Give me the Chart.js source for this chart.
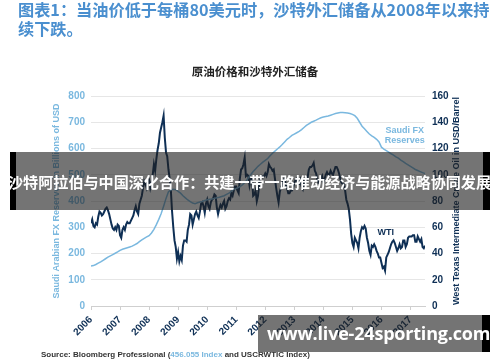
<!DOCTYPE html>
<html lang="zh">
<head>
<meta charset="UTF-8">
<title>原油价格和沙特外汇储备</title>
<script src="https://cdn.jsdelivr.net/npm/chart.js@4.4.1/dist/chart.umd.min.js"></script>
<style>
    body {
        margin: 0;
        width: 500px;
        height: 362px;
        overflow: hidden;
        background: #ffffff;
        font-family: "Noto Sans CJK SC", "Noto Sans", sans-serif;
        position: relative;
    }
    #chart { position: absolute; left: 0; top: 0; }
    .heading {
        position: absolute;
        left: 18px;
        top: 0px;
        width: 475px;
        font-size: 16.2px;
        line-height: 19px;
        font-weight: bold;
        color: #4a8fcf;
    }
    .ctitle {
        position: absolute;
        left: 0;
        width: 510px;
        top: 63px;
        text-align: center;
        font-size: 11.5px;
        font-weight: bold;
        color: #222;
    }
    .source {
        position: absolute;
        left: 41px;
        top: 350px;
        font-family: "Liberation Sans", Arial, sans-serif;
        font-size: 8px;
        font-weight: bold;
        color: #333;
        white-space: nowrap;
    }
    .source span { color: #7ab8df; }
    .banner {
        position: absolute;
        left: 10px;
        top: 152px;
        width: 480px;
        height: 58px;
        background: rgba(30, 30, 30, 0.62);
    }
    .bar { position: absolute; background: #000; }
    .banner-text {
        position: absolute;
        left: 8px;
        top: 171px;
        font-size: 15.1px;
        line-height: 20px;
        font-weight: bold;
        color: #fff;
        white-space: nowrap;
    }
    .mark {
        position: absolute;
        left: 258px;
        top: 315px;
        width: 232px;
        height: 37px;
        background: rgba(30, 30, 30, 0.62);
    }
    .mark-text {
        position: absolute;
        left: 267px;
        top: 319px;
        font-family: "Open Sans", sans-serif;
        font-size: 18px;
        line-height: 28px;
        font-weight: bold;
        letter-spacing: -0.2px;
        color: #fff;
        white-space: nowrap;
    }
</style>
</head>
<body>
<canvas id="chart" width="500" height="362"></canvas>

<div class="heading">图表1：当油价低于每桶80美元时，沙特外汇储备从2008年以来持续下跌。</div>
<div class="ctitle">原油价格和沙特外汇储备</div>
<div class="source">Source: Bloomberg Professional (<span>456.055 Index</span> and USCRWTIC Index)</div>

<div class="banner"></div>
<div class="bar" style="left:10px;top:152px;width:6px;height:58px"></div>
<div class="bar" style="left:483px;top:152px;width:7px;height:58px"></div>
<div class="banner-text">沙特阿拉伯与中国深化合作：共建一带一路推动经济与能源战略协同发展</div>

<div class="mark"></div>
<div class="bar" style="left:482px;top:315px;width:8px;height:37px"></div>
<div class="mark-text">www.live-24sporting.com</div>

<script>
// x axis years
var startYear = 2006;
var endYear = 2017.5;
var yearTicks = [2006, 2007, 2008, 2009, 2010, 2011, 2012, 2013, 2014, 2015, 2016, 2017];

// Saudi FX reserves, billions USD, monthly from Jan 2006
var fxReserves = [
    152, 154, 158, 163, 168, 174, 180, 186, 191, 196, 201, 206,
    212, 216, 219, 222, 225, 228, 233, 238, 245, 252, 258, 263,
    268, 278, 292, 310, 330, 352, 380, 410, 435, 442, 445, 443,
    437, 430, 420, 412, 404, 398, 392, 390, 393, 396, 398, 402,
    405, 407, 408, 410, 412, 414, 417, 420, 425, 430, 437, 445,
    448, 452, 458, 465, 475, 488, 500, 512, 522, 532, 540, 548,
    555, 562, 572, 582, 590, 598, 606, 615, 625, 635, 642, 650,
    655, 660, 665, 672, 680, 688, 694, 700, 704, 708, 713, 717,
    720, 722, 724, 727, 730, 733, 735, 737, 737, 736, 735, 733,
    730, 725, 715, 700, 685, 675, 665, 655, 648, 642, 635, 625,
    605, 598, 592, 586, 580, 575, 568, 563, 556, 550, 543, 538,
    532, 526, 520, 516, 512, 508, 505
];

// WTI crude, USD/barrel, twice a month from Jan 2006
var wtiPrice = [
    63, 66, 61, 60, 63, 62, 68, 72, 71, 69, 70, 72, 74, 75, 73, 70, 66, 62, 59, 58, 60, 58, 62, 61,
    54, 52, 58, 60, 58, 62, 64, 63, 63, 65, 67, 69, 73, 76, 72, 70, 78, 81, 84, 90, 95, 93, 90, 95,
    96, 90, 94, 100, 108, 103, 112, 119, 124, 132, 136, 140, 145, 128, 117, 114, 104, 97, 88, 72, 60, 50, 45, 36,
    41, 34, 38, 35, 46, 50, 50, 49, 58, 62, 70, 69, 62, 66, 70, 72, 69, 67, 72, 78, 79, 76, 71, 78,
    81, 76, 74, 79, 81, 82, 85, 84, 75, 70, 74, 77, 75, 78, 80, 74, 76, 80, 82, 81, 86, 84, 88, 91,
    91, 88, 86, 97, 104, 105, 108, 113, 99, 100, 99, 92, 97, 98, 84, 85, 88, 80, 84, 93, 98, 99, 98, 99,
    101, 99, 102, 108, 106, 105, 103, 104, 97, 90, 84, 79, 87, 90, 93, 96, 97, 92, 90, 86, 86, 88, 88, 90,
    94, 96, 97, 93, 93, 96, 91, 89, 95, 93, 96, 98, 104, 106, 106, 107, 109, 103, 101, 97, 94, 93, 97, 99,
    94, 97, 100, 102, 100, 100, 103, 101, 100, 103, 106, 106, 104, 101, 97, 94, 93, 93, 88, 81, 78, 74, 66, 55,
    48, 45, 52, 50, 48, 44, 52, 57, 60, 59, 61, 59, 52, 48, 42, 39, 46, 45, 47, 45, 42, 40, 37, 37,
    33, 29, 30, 27, 37, 39, 41, 44, 47, 49, 50, 48, 45, 42, 44, 47, 44, 45, 50, 50, 45, 47, 52, 53,
    53, 53, 54, 54, 49, 49, 53, 51, 49, 51, 45, 44, 46
];

var fxLabel = ['Saudi FX', 'Reserves'];
var wtiLabel = 'WTI';
var leftTitle = 'Saudi Arabian FX Reserves in Billions of USD';
var rightTitle = 'West Texas Intermediate Crude Oil in USD/Barrel';

var lightBlue = '#7ab8df';
var navy = '#0e2f55';

var fxPoints = fxReserves.map(function (v, i) { return { x: startYear + i / 12, y: v }; });
var wtiPoints = wtiPrice.map(function (v, i) { return { x: startYear + i / 24, y: v }; });

var labelsPlugin = {
    id: 'labels',
    afterDraw: function (chart) {
        var ctx = chart.ctx;
        var xs = chart.scales.x, yl = chart.scales.yL, yr = chart.scales.yR;
        var area = chart.chartArea;
        var midY = (area.top + area.bottom) / 2;
        ctx.save();
        ctx.font = 'bold 9px "Liberation Sans", Arial, sans-serif';
        ctx.textAlign = 'center';
        ctx.textBaseline = 'middle';

        ctx.fillStyle = lightBlue;
        ctx.fillText(fxLabel[0], xs.getPixelForValue(2016.8), yl.getPixelForValue(667));
        ctx.fillText(fxLabel[1], xs.getPixelForValue(2016.8), yl.getPixelForValue(629));
        ctx.fillStyle = navy;
        ctx.fillText(wtiLabel, xs.getPixelForValue(2016.15), yr.getPixelForValue(56));

        ctx.translate(57, midY);
        ctx.rotate(-Math.PI / 2);
        ctx.fillStyle = lightBlue;
        ctx.fillText(leftTitle, 0, 0);
        ctx.restore();

        ctx.save();
        ctx.font = 'bold 9px "Liberation Sans", Arial, sans-serif';
        ctx.textAlign = 'center';
        ctx.textBaseline = 'middle';
        ctx.translate(457, midY);
        ctx.rotate(-Math.PI / 2);
        ctx.fillStyle = navy;
        ctx.fillText(rightTitle, 0, 0);
        ctx.restore();
    }
};

var tickFont = { family: '"Liberation Sans", Arial, sans-serif', size: 10, weight: 'bold' };

new Chart(document.getElementById('chart'), {
    type: 'line',
    data: {
        datasets: [
            {
                label: 'Saudi FX Reserves',
                data: fxPoints,
                yAxisID: 'yL',
                borderColor: lightBlue,
                borderWidth: 1.5,
                pointRadius: 0,
                tension: 0
            },
            {
                label: 'WTI',
                data: wtiPoints,
                yAxisID: 'yR',
                borderColor: navy,
                borderWidth: 2,
                pointRadius: 0,
                tension: 0
            }
        ]
    },
    options: {
        responsive: false,
        animation: false,
        layout: { padding: { top: 96, left: 0, right: 0, bottom: 0 } },
        plugins: { legend: { display: false }, tooltip: { enabled: false } },
        scales: {
            x: {
                type: 'linear',
                min: startYear,
                max: endYear,
                afterFit: function (s) { s.height = 56; },
                afterBuildTicks: function (s) {
                    s.ticks = yearTicks.map(function (v) { return { value: v }; });
                },
                border: { display: true, color: '#cfcfcf' },
                grid: { drawOnChartArea: false, drawTicks: true, tickLength: 4, color: '#cfcfcf' },
                ticks: {
                    minRotation: 45,
                    maxRotation: 45,
                    padding: 4,
                    color: navy,
                    font: tickFont,
                    callback: function (v) { return String(v); }
                }
            },
            yL: {
                position: 'left',
                min: 0,
                max: 800,
                afterFit: function (s) { s.width = 91; },
                border: { display: false },
                grid: { color: '#e6e6e6', drawTicks: false },
                ticks: { stepSize: 100, padding: 6, color: lightBlue, font: tickFont }
            },
            yR: {
                position: 'right',
                min: 0,
                max: 160,
                afterFit: function (s) { s.width = 75; },
                border: { display: false },
                grid: { drawOnChartArea: false, drawTicks: false },
                ticks: { stepSize: 20, padding: 7, color: navy, font: tickFont }
            }
        }
    },
    plugins: [labelsPlugin]
});
</script>
</body>
</html>
